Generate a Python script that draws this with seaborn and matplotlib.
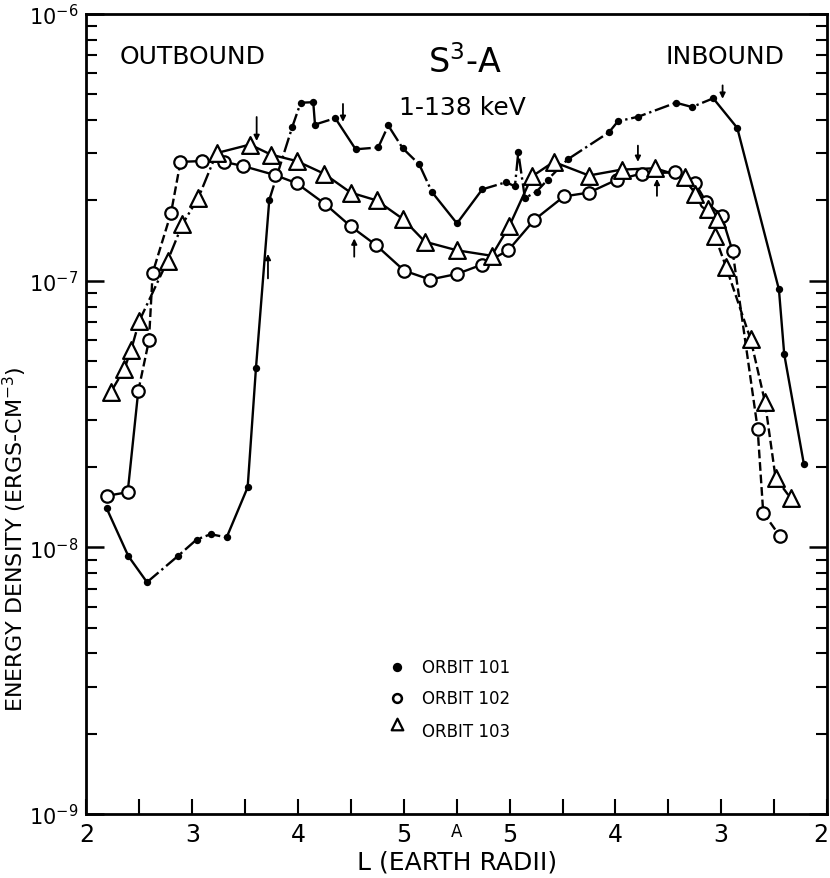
import numpy as np
import pandas as pd
import matplotlib
matplotlib.use("Agg")
import matplotlib.pyplot as plt
import seaborn as sns
from matplotlib.ticker import FixedLocator, LogLocator, NullFormatter
from matplotlib.transforms import ScaledTranslation

sns.set_theme(style="white")
plt.rcParams["font.family"] = ["DejaVu Sans"]
plt.rcParams["mathtext.fontset"] = "dejavusans"
for k in ["text.color", "axes.labelcolor", "xtick.color", "ytick.color", "axes.edgecolor"]:
    plt.rcParams[k] = "black"

# ---------------- data ----------------
x_tick_pos = list(range(15))
x_tick_labels = ["2", "", "3", "", "4", "", "5", "A", "5", "", "4", "", "3", "", "2"]

y_major = [1e-9, 1e-8, 1e-7, 1e-6]
y_major_labels = ["$10^{-9}$", "$10^{-8}$", "$10^{-7}$", "$10^{-6}$"]

orbit101_x = [0.382, 0.790, 1.144, 1.735, 2.083, 2.348, 2.650, 3.047, 3.204, 3.456,
              3.890, 4.049, 4.287, 4.320, 4.703, 5.089, 5.516, 5.705, 5.977, 6.291,
              6.531, 7.004, 7.482, 7.930, 8.100, 8.163, 8.289, 8.510, 8.718, 9.096,
              9.877, 10.047, 10.431, 11.144, 11.447, 11.849, 12.303, 13.091, 13.191, 13.563]
orbit101_y = [1.40e-8, 9.28e-9, 7.4e-9, 9.3e-9, 1.07e-8, 1.12e-8, 1.09e-8, 1.68e-8, 4.70e-8, 2.01e-7,
              3.77e-7, 4.65e-7, 4.67e-7, 3.85e-7, 4.07e-7, 3.11e-7, 3.16e-7, 3.82e-7, 3.14e-7, 2.73e-7,
              2.15e-7, 1.64e-7, 2.20e-7, 2.34e-7, 2.26e-7, 3.03e-7, 2.04e-7, 2.16e-7, 2.39e-7, 2.85e-7,
              3.60e-7, 3.96e-7, 4.12e-7, 4.65e-7, 4.48e-7, 4.83e-7, 3.74e-7, 9.27e-8, 5.30e-8, 2.05e-8]
orbit101_segments = [(0, 2, "-"), (2, 6, "-."), (6, 9, "-"), (9, 11, "-."), (11, 13, "-"),
                     (13, 14, "-."), (14, 15, "-"), (15, 20, "-."), (20, 22, "-"),
                     (22, 35, "-."), (35, 39, "-")]

orbit102_x = [0.382, 0.779, 0.979, 1.181, 1.251, 1.597, 1.777, 2.193, 2.605, 2.964,
              3.563, 3.974, 4.509, 4.994, 5.473, 6.008, 6.493, 7.004, 7.482, 7.974,
              8.465, 9.026, 9.499, 10.023, 10.495, 11.125, 11.503, 11.711, 12.008, 12.215,
              12.688, 12.794, 13.110]
orbit102_y = [1.56e-8, 1.61e-8, 3.86e-8, 5.97e-8, 1.07e-7, 1.79e-7, 2.79e-7, 2.81e-7, 2.79e-7, 2.69e-7,
              2.49e-7, 2.32e-7, 1.94e-7, 1.60e-7, 1.36e-7, 1.09e-7, 1.01e-7, 1.06e-7, 1.15e-7, 1.30e-7,
              1.69e-7, 2.07e-7, 2.14e-7, 2.39e-7, 2.52e-7, 2.55e-7, 2.33e-7, 1.98e-7, 1.75e-7, 1.29e-7,
              2.79e-8, 1.35e-8, 1.10e-8]
orbit102_segments = [(0, 2, "-"), (2, 6, "--"), (6, 29, "-"), (29, 32, "--"), (32, 33, "-")]

orbit103_x = [0.463, 0.715, 0.841, 0.998, 1.535, 1.815, 2.117, 2.461, 3.091, 3.488,
              3.974, 4.490, 4.994, 5.486, 5.989, 6.399, 7.004, 7.660, 7.992, 8.422,
              8.832, 9.499, 10.117, 10.747, 11.314, 11.503, 11.754, 11.913, 11.881, 12.089,
              12.556, 12.826, 13.028, 13.312]
orbit103_y = [3.83e-8, 4.66e-8, 5.48e-8, 7.06e-8, 1.19e-7, 1.63e-7, 2.05e-7, 3.01e-7, 3.24e-7, 2.97e-7,
              2.81e-7, 2.52e-7, 2.14e-7, 2.00e-7, 1.70e-7, 1.40e-7, 1.30e-7, 1.24e-7, 1.60e-7, 2.46e-7,
              2.79e-7, 2.48e-7, 2.61e-7, 2.64e-7, 2.44e-7, 2.12e-7, 1.86e-7, 1.70e-7, 1.47e-7, 1.13e-7,
              6.03e-8, 3.52e-8, 1.82e-8, 1.53e-8]
orbit103_segments = [(0, 7, "-."), (7, 28, "-"), (28, 33, "--")]

# arrows: (x, tail value, tip value)
arrow_x = [3.217, 3.431, 4.849, 5.062, 10.425, 10.785, 12.026]
arrow_tail = [4.11e-7, 1.02e-7, 4.60e-7, 1.23e-7, 3.21e-7, 2.08e-7, 5.40e-7]
arrow_tip = [3.34e-7, 1.26e-7, 3.94e-7, 1.44e-7, 2.79e-7, 2.41e-7, 4.81e-7]

legend_labels = ["ORBIT 101", "ORBIT 102", "ORBIT 103"]

# ---------------- figure ----------------
fig = plt.figure(figsize=(8.30, 8.79), dpi=100)
ax = fig.add_axes([0.1042, 0.0728, 0.8922, 0.9101])
ax.set_facecolor("white")

series = [
    (orbit101_x, orbit101_y, orbit101_segments, dict(marker="o", s=28, color="black", edgecolor="black", linewidth=0)),
    (orbit102_x, orbit102_y, orbit102_segments, dict(marker="o", s=80, color="white", edgecolor="black", linewidth=1.6)),
    (orbit103_x, orbit103_y, orbit103_segments, dict(marker="^", s=145, color="white", edgecolor="black", linewidth=1.6)),
]

for xs, ys, segs, mk in series:
    df = pd.DataFrame({"L": xs, "E": ys})
    for a, b, ls in segs:
        part = df.iloc[a:b + 1]
        sns.lineplot(data=part, x="L", y="E", sort=False, estimator=None, color="black",
                     linestyle=ls, linewidth=1.7, ax=ax, legend=False)
for xs, ys, segs, mk in series:
    df = pd.DataFrame({"L": xs, "E": ys})
    sns.scatterplot(data=df, x="L", y="E", ax=ax, legend=False, zorder=3, **mk)

for x, t0, t1 in zip(arrow_x, arrow_tail, arrow_tip):
    ax.annotate("", xy=(x, t1), xytext=(x, t0),
                arrowprops=dict(arrowstyle="-|>", color="black", lw=1.3, mutation_scale=8,
                                shrinkA=0, shrinkB=0))

ax.set_yscale("log")
ax.set_ylim(1e-9, 1e-6)
ax.set_xlim(0, 14)

ax.xaxis.set_major_locator(FixedLocator(x_tick_pos))
ax.set_xticklabels(x_tick_labels)
ax.yaxis.set_major_locator(FixedLocator(y_major))
ax.set_yticklabels(y_major_labels)
ax.yaxis.set_minor_locator(LogLocator(base=10, subs=np.arange(2, 10)))
ax.yaxis.set_minor_formatter(NullFormatter())

ax.tick_params(axis="x", which="major", direction="in", length=11, width=1.5, bottom=True, top=False,
               labelsize=17, pad=6, colors="black")
ax.tick_params(axis="y", which="major", direction="in", length=13, width=1.8, left=True, right=True,
               labelsize=15, pad=6, colors="black")
ax.tick_params(axis="y", which="minor", direction="in", length=8, width=1.5, left=True, right=True)

xlabels = ax.get_xticklabels()
for lbl in xlabels:
    if lbl.get_text() == "A":
        lbl.set_fontsize(12)
xlabels[-1].set_transform(xlabels[-1].get_transform() + ScaledTranslation(-6 / 100, 0, fig.dpi_scale_trans))

for sp in ax.spines.values():
    sp.set_color("black")
    sp.set_linewidth(2.0)

ax.set_xlabel("L (EARTH RADII)", fontsize=18, labelpad=2)
ax.set_ylabel("ENERGY DENSITY (ERGS-CM$^{-3}$)", fontsize=16)
ax.yaxis.set_label_coords(-0.078, 0.345)

ax.text(0.144, 0.948, "OUTBOUND", transform=ax.transAxes, ha="center", va="center", fontsize=18)
ax.text(0.862, 0.948, "INBOUND", transform=ax.transAxes, ha="center", va="center", fontsize=18)
ax.text(0.511, 0.941, "S$^{3}$-A", transform=ax.transAxes, ha="center", va="center", fontsize=24)
ax.text(0.508, 0.884, "1-138 keV", transform=ax.transAxes, ha="center", va="center", fontsize=18)

leg_marks = [dict(marker="o", s=45, facecolor="black", edgecolor="black", linewidth=0),
             dict(marker="o", s=40, facecolor="white", edgecolor="black", linewidth=1.8),
             dict(marker="^", s=70, facecolor="white", edgecolor="black", linewidth=1.6)]
leg_y = [0.184, 0.145, 0.108]
for lab, mk, yy in zip(legend_labels, leg_marks, leg_y):
    ax.scatter([0.419], [yy + (0.004 if mk["marker"] == "^" else 0)], transform=ax.transAxes,
               clip_on=False, zorder=4, **mk)
    ax.text(0.453, yy - (0.004 if mk["marker"] == "^" else 0), lab, transform=ax.transAxes,
            ha="left", va="center", fontsize=12)

fig.savefig("out.png", dpi=100, facecolor="white")
